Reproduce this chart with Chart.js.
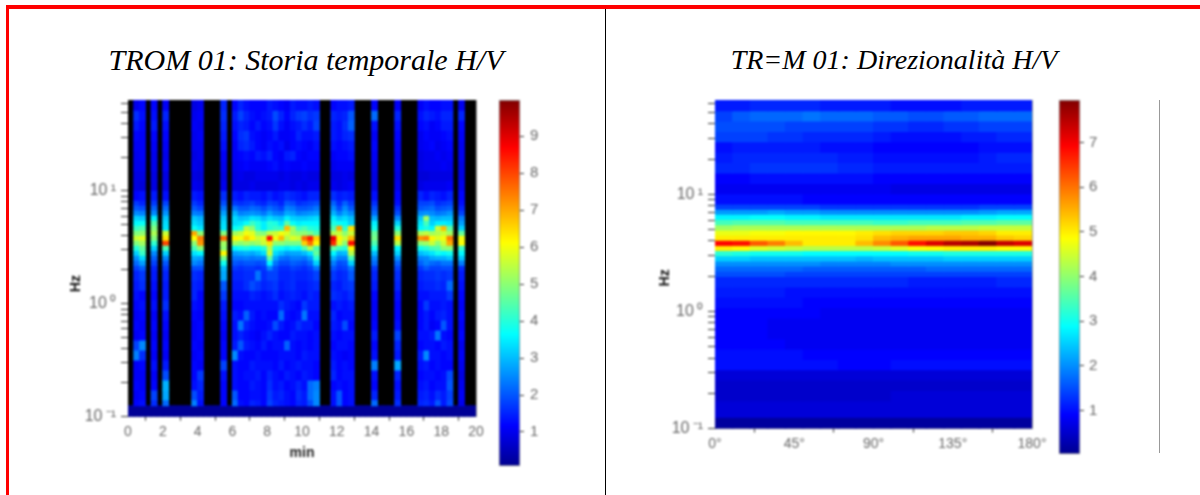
<!DOCTYPE html>
<html>
<head>
<meta charset="utf-8">
<title>TROM 01</title>
<script src="https://cdn.jsdelivr.net/npm/chart.js@4"></script>
<style>
body { margin: 0; background: #fff; overflow: hidden; }
#frame { position: absolute; left: 6px; top: 5px; width: 1300px; height: 600px; border-left: 3px solid #f00; border-top: 4px solid #f00; }
#divider { position: absolute; left: 605px; top: 9px; width: 1px; height: 486px; background: #000; }
#sideLine { position: absolute; left: 1159px; top: 100px; width: 1px; height: 353px; background: #999; }
.title { position: absolute; top: 43px; font: italic 30px "Liberation Serif", serif; color: #000; text-align: center; white-space: nowrap; }
canvas { position: absolute; filter: blur(1px); }
</style>
</head>
<body>
<div id="frame"></div>
<div id="divider"></div>
<div id="sideLine"></div>
<div class="title" style="left:8px;width:596px">TROM 01: Storia temporale H/V</div>
<div class="title" style="left:606px;width:576px;font-size:28px;top:44px">TR=M 01: Direzionalità H/V</div>
<canvas id="historyChart" width="430" height="372" style="left:60px;top:90px"></canvas>
<canvas id="historyBar" width="60" height="385" style="left:490px;top:90px"></canvas>
<canvas id="directionChart" width="400" height="372" style="left:650px;top:90px"></canvas>
<canvas id="directionBar" width="60" height="373" style="left:1050px;top:90px"></canvas>
<script>
// row edges in Hz, from the top of the plot down to the dark bottom strip
const freqEdges = [64, 51.8, 42.3, 34.5, 28.1, 22.9, 18.7, 15.2, 12.4, 10.1, 8.27, 7.47, 6.75, 6.09, 5.5, 4.97, 4.49, 4.05, 3.66, 3.31, 2.99, 2.7, 2.44, 2.2, 1.99, 1.62, 1.32, 1.08, 0.88, 0.72, 0.585, 0.477, 0.389, 0.318, 0.259, 0.211, 0.172, 0.141, 0.125];
const stripEdges = [0.125, 0.1];
const hzTicks = [0.1, 0.2, 0.3, 0.4, 0.5, 0.6, 0.7, 0.8, 0.9, 1, 2, 3, 4, 5, 6, 7, 8, 9, 10, 20, 30, 40, 50, 60];
const hzLabels = { 0.1: '10\u2009⁻¹', 1: '10\u2009⁰', 10: '10\u2009¹' };

// time history: 60 windows of 20 s, black where the window was removed
const minutesPerWindow = 1 / 3;
const blackWindows = [0, 3, 5, 7, 8, 9, 10, 13, 14, 15, 17, 33, 34, 39, 40, 41, 43, 44, 45, 47, 48, 49, 56, 58, 59];
const keptWindows = [1, 2, 4, 6, 11, 12, 16, 18, 19, 20, 21, 22, 23, 24, 25, 26, 27, 28, 29, 30, 31, 32, 35, 36, 37, 38, 42, 46, 50, 51, 52, 53, 54, 55, 57];
const historyStrip = 0.15;
const historyRows = [
  [1.0,1.2,1.2,1.1,0.9,1.0,1.5,1.2,1.5,1.3,1.2,1.2,1.2,1.4,1.3,1.2,1.1,1.4,1.3,1.3,1.4,1.3,1.2,1.3,1.3,1.4,1.2,1.1,1.1,1.3,1.2,1.2,1.3,1.3,1.0],
  [1.6,1.3,1.3,1.5,1.0,1.1,1.6,1.4,1.8,1.5,1.3,1.2,1.3,1.4,1.9,1.5,1.2,1.5,1.7,1.8,1.6,1.7,1.5,1.4,1.5,2.0,2.2,1.5,1.3,1.5,1.4,1.3,1.5,1.5,1.5],
  [1.4,1.2,1.4,1.3,1.1,1.0,1.5,1.3,1.5,1.4,1.2,1.4,1.2,1.3,1.7,1.3,1.1,1.3,1.4,1.6,1.4,1.8,1.4,1.3,1.6,2.1,1.3,1.3,1.2,1.3,1.1,1.2,1.4,1.4,1.2],
  [1.2,1.1,1.2,1.2,1.0,1.1,1.4,1.2,1.6,1.7,1.3,1.2,1.1,1.2,1.4,1.1,1.1,1.2,1.5,1.3,1.3,1.4,1.4,1.3,1.5,1.6,1.1,1.2,1.0,1.2,1.1,1.1,1.2,1.3,1.1],
  [1.1,1.1,1.1,1.1,1.0,1.0,1.3,1.1,1.5,1.6,1.4,1.2,1.1,1.3,1.2,1.3,1.0,1.2,1.3,1.2,1.1,1.3,1.3,1.2,1.3,1.4,1.2,1.1,1.0,1.1,1.2,1.0,1.1,1.2,1.0],
  [1.0,1.1,1.0,1.0,0.9,1.0,1.1,1.1,1.2,1.3,1.2,1.4,1.3,1.5,1.2,1.1,1.4,1.5,1.2,1.1,1.2,1.2,1.1,1.2,1.2,1.3,1.1,1.0,0.9,1.0,1.0,1.1,1.0,1.1,1.0],
  [1.0,1.0,1.0,1.1,1.0,0.9,1.0,1.0,1.1,1.2,1.1,1.1,1.1,1.2,1.3,1.1,1.2,1.1,1.1,1.2,1.1,1.1,1.0,1.1,1.1,1.1,1.0,1.0,0.9,1.0,1.0,1.0,1.1,1.0,0.9],
  [0.9,0.9,0.9,0.9,0.9,0.8,0.9,0.9,1.0,0.9,0.9,1.0,1.0,1.0,1.0,0.9,1.0,0.9,0.9,1.0,0.9,0.9,0.9,0.9,1.0,0.9,0.9,0.9,0.8,0.8,0.9,0.9,0.9,0.9,0.9],
  [0.9,0.8,0.9,0.9,1.0,0.9,1.0,0.9,0.9,0.9,1.0,0.9,0.9,0.9,0.9,1.0,1.0,0.9,1.0,0.9,1.0,1.0,1.0,0.9,1.0,1.1,0.9,1.0,0.9,1.0,1.0,1.0,1.0,1.1,1.0],
  [1.2,1.3,1.4,1.3,1.4,1.3,1.6,1.4,1.3,1.5,1.4,1.4,1.3,1.5,1.3,1.4,1.6,1.5,1.4,1.3,1.5,1.5,1.6,1.4,1.5,1.4,1.3,1.2,1.5,1.3,1.5,1.4,1.3,1.5,1.2],
  [1.7,1.5,1.7,1.8,1.7,1.5,1.9,1.7,1.6,1.7,1.8,1.6,1.5,1.8,1.7,1.5,2.0,1.9,1.6,1.7,1.8,1.9,2.1,1.6,2.1,1.7,1.6,1.3,1.8,1.8,1.9,1.6,1.7,1.8,1.3],
  [2.0,1.9,2.1,2.2,2.0,1.8,2.3,2.3,2.0,2.0,2.2,2.1,1.9,2.2,2.0,1.8,2.4,2.3,2.0,2.0,2.1,2.3,2.5,1.9,2.5,2.0,1.9,1.6,2.0,2.1,2.2,1.9,2.0,2.1,1.5],
  [2.5,2.4,2.5,2.6,2.4,2.3,2.7,2.9,2.4,2.5,2.6,2.5,2.3,2.7,2.4,2.3,2.8,2.7,2.4,2.5,2.6,2.7,2.9,2.4,2.8,2.5,2.2,1.9,2.5,2.6,2.5,2.3,2.4,2.6,1.8],
  [3.2,3.1,3.5,3.1,3.1,2.9,3.1,3.3,3.0,3.1,3.4,3.3,3.0,3.3,3.1,3.0,3.5,3.2,3.1,3.1,3.2,3.3,3.5,3.1,3.3,3.0,2.8,2.5,3.1,5.2,3.0,2.9,3.0,3.0,2.4],
  [3.6,3.7,4.4,3.3,3.3,3.1,3.3,3.3,3.4,3.7,4.2,3.9,3.5,4.0,3.9,3.4,4.5,3.7,3.5,3.6,3.6,3.6,3.9,3.7,3.6,3.2,3.5,3.2,3.4,4.3,3.2,3.5,3.5,3.4,2.7],
  [4.2,4.4,4.9,3.4,3.7,3.4,3.4,3.7,3.9,5.4,5.0,4.0,3.5,4.0,4.2,4.1,6.8,5.2,4.2,4.4,4.0,3.9,4.4,7.0,4.1,6.4,3.8,4.0,3.6,3.9,3.6,5.6,6.8,4.5,3.2],
  [4.9,5.0,5.3,5.6,7.0,5.0,4.9,5.2,5.5,6.0,5.8,5.0,4.9,5.5,5.6,6.0,5.8,5.2,5.0,5.0,4.8,4.4,5.4,5.6,5.0,5.6,4.6,5.0,5.3,5.5,5.2,5.4,5.6,5.2,4.6],
  [5.6,5.8,4.9,6.4,6.1,7.4,7.6,6.2,6.0,6.6,6.2,5.6,5.8,8.6,6.0,6.8,5.4,5.8,5.6,7.6,8.4,6.6,8.9,6.2,5.6,6.8,4.8,6.4,7.2,7.4,6.2,5.8,6.0,7.4,6.0],
  [4.9,5.2,4.1,8.0,5.0,7.2,5.2,5.2,5.0,5.2,5.0,5.2,5.6,6.4,5.0,5.0,4.8,4.8,4.8,6.6,7.6,6.2,8.3,5.8,5.0,8.6,4.4,5.4,5.0,5.2,5.6,5.0,5.6,7.0,6.1],
  [4.0,4.6,3.2,4.4,4.3,5.0,5.0,3.6,3.8,3.9,3.7,3.7,4.0,5.4,3.9,3.7,3.5,3.7,3.6,4.4,5.4,4.4,4.6,4.2,4.0,6.2,3.8,3.6,3.8,4.0,4.3,4.4,5.0,5.0,4.2],
  [3.2,4.2,2.5,3.2,3.4,3.6,6.2,2.7,2.8,2.9,2.8,3.0,3.3,5.6,3.3,3.0,2.7,2.8,2.8,3.0,3.4,4.6,3.6,2.9,3.0,5.4,3.0,3.2,3.0,3.2,3.4,3.8,3.6,3.8,3.6],
  [2.6,3.3,2.1,2.5,2.8,2.7,4.8,2.3,2.3,2.4,2.3,2.4,2.4,4.6,2.8,2.3,2.2,2.4,2.4,2.3,2.7,4.0,2.9,2.4,2.4,4.3,2.5,2.6,2.4,2.5,2.8,2.9,2.9,3.1,3.1],
  [2.2,2.7,1.8,2.0,2.5,2.3,3.8,2.0,1.9,2.0,2.0,1.9,2.0,3.6,2.3,1.9,1.9,2.1,2.0,1.9,2.2,3.2,2.4,1.9,2.0,3.2,2.2,2.1,2.1,2.4,2.2,2.1,2.3,2.3,2.4],
  [1.8,2.1,1.5,1.7,1.9,1.9,3.0,1.7,1.6,1.7,1.7,1.6,1.7,2.5,1.9,1.6,1.6,1.8,1.7,1.6,1.8,2.3,2.0,1.7,1.8,2.3,1.7,1.8,1.7,2.0,1.8,1.8,1.9,1.9,1.6],
  [1.5,1.7,1.4,1.5,1.6,1.5,2.8,1.5,1.5,1.6,1.6,2.3,1.6,1.8,1.8,1.5,1.5,1.6,1.5,1.5,1.6,1.8,1.7,1.5,1.6,2.0,1.5,1.6,1.5,1.6,1.6,1.7,1.6,1.7,1.4],
  [1.4,1.6,1.3,1.4,1.5,1.4,2.0,1.4,1.4,1.6,1.9,1.7,1.5,1.6,1.7,1.4,1.5,1.6,1.4,1.4,1.5,1.6,1.5,1.4,1.6,1.7,1.4,1.5,1.4,1.5,1.5,1.6,1.5,2.2,1.3],
  [1.3,1.2,1.2,1.4,1.5,1.2,1.7,1.3,1.3,1.3,1.5,1.4,1.3,1.4,1.6,1.3,1.4,1.5,1.4,1.3,1.5,1.4,1.6,1.5,1.4,1.6,1.2,1.3,1.3,1.3,1.4,1.4,1.4,1.7,1.2],
  [1.2,1.3,1.3,1.6,1.3,1.2,1.4,1.2,1.2,1.3,1.3,1.3,1.3,1.3,1.3,1.6,1.4,1.3,1.2,1.7,1.4,1.4,1.3,1.4,1.3,1.4,1.1,1.2,1.2,1.7,1.3,1.3,1.4,1.3,1.1],
  [1.1,1.2,1.1,1.3,1.2,1.1,1.3,1.4,1.3,2.1,1.4,1.2,1.3,1.2,1.2,2.2,1.3,1.2,1.3,2.3,1.3,1.3,1.5,1.2,1.3,1.3,1.1,1.2,1.2,1.4,1.2,1.4,1.5,1.3,1.2],
  [1.2,1.1,1.2,1.2,1.1,1.2,1.2,1.3,2.3,1.5,1.3,1.2,1.2,1.3,1.9,1.4,1.2,1.3,1.6,1.4,1.4,1.2,1.4,1.3,1.9,1.2,1.2,1.3,1.2,1.4,1.1,1.2,2.0,1.3,1.1],
  [1.1,1.2,1.1,1.1,1.1,1.2,1.1,1.3,1.5,1.3,1.2,1.1,1.3,1.5,1.3,1.2,1.2,1.4,1.3,1.3,1.2,1.3,1.3,1.2,1.3,1.3,1.4,1.8,1.3,1.3,1.4,2.3,1.3,1.2,1.2],
  [1.8,2.5,1.2,1.2,1.2,1.1,1.2,1.4,2.0,1.4,1.3,1.2,1.4,1.2,1.3,1.3,2.1,1.3,1.2,1.3,1.2,1.3,1.2,1.3,1.3,1.2,1.2,1.5,1.2,1.3,1.3,1.2,1.4,1.3,1.0],
  [2.4,1.6,1.1,1.1,1.1,1.2,1.2,2.5,1.3,1.2,1.2,1.3,1.2,1.2,1.2,1.3,1.3,1.3,1.2,1.4,1.3,1.3,1.3,1.2,1.1,1.2,1.3,1.4,1.4,2.5,1.3,1.3,1.2,1.3,1.1],
  [1.1,1.2,1.3,1.4,1.2,1.1,1.8,1.3,1.2,1.2,1.4,1.3,1.3,1.3,1.2,1.4,1.2,1.3,1.4,1.3,1.3,1.2,1.4,1.2,1.3,1.2,2.4,2.8,1.3,1.4,1.2,1.3,1.2,1.2,1.0],
  [1.1,1.1,1.1,1.9,1.2,1.7,1.3,1.3,1.2,1.3,1.3,1.4,1.2,1.5,1.3,1.2,1.4,1.3,1.2,1.4,1.3,1.2,1.5,1.2,1.3,1.3,1.3,1.5,1.2,1.3,1.3,1.2,1.3,1.9,0.9],
  [1.2,1.1,1.2,2.9,1.3,1.5,1.2,1.3,1.2,1.2,1.4,1.3,1.2,1.6,1.3,1.4,1.2,1.3,1.5,1.3,2.2,2.4,1.2,1.3,1.2,1.3,1.2,1.3,1.3,1.4,1.2,1.3,1.3,2.0,1.0],
  [1.1,1.2,1.8,2.8,1.9,1.4,1.2,2.0,1.2,1.2,1.3,1.3,1.2,1.7,1.4,1.5,1.3,1.2,1.6,1.4,2.2,2.5,1.3,2.0,1.2,1.3,1.5,1.4,1.4,1.5,1.3,1.6,1.4,1.8,1.1],
  [1.2,1.3,1.6,2.2,2.4,1.3,1.2,2.2,1.3,1.2,1.5,1.4,1.2,1.8,1.5,1.4,1.3,1.2,1.5,1.4,1.9,2.5,1.3,2.0,1.2,1.3,2.2,1.6,1.5,1.6,1.4,2.0,1.4,1.9,1.0]
];

// directionality: 18 sectors of 10 degrees
const degreesPerSector = 10;
const directionStrip = 0.15;
const directionRows = [
  [1.1,1.1,1.2,1.2,1.2,1.2,1.1,1.1,1.1,1.1,1.0,1.0,1.0,1.0,1.1,1.1,1.1,1.1],
  [1.4,1.6,1.7,1.7,1.7,1.8,1.7,1.7,1.7,1.6,1.6,1.5,1.5,1.6,1.6,1.7,1.7,1.7],
  [1.5,1.5,1.5,1.5,1.4,1.4,1.4,1.4,1.4,1.3,1.3,1.2,1.2,1.3,1.3,1.4,1.4,1.4],
  [1.4,1.4,1.4,1.3,1.3,1.2,1.2,1.2,1.2,1.1,1.0,1.0,1.0,1.0,1.1,1.1,1.2,1.2],
  [1.0,1.1,1.1,1.1,1.1,1.1,1.0,1.0,1.0,0.9,0.9,0.9,0.9,0.9,0.9,1.0,1.0,1.0],
  [1.1,1.2,1.2,1.2,1.2,1.2,1.2,1.1,1.1,1.0,1.0,1.0,1.0,1.0,1.0,1.1,1.2,1.2],
  [1.2,1.2,1.3,1.3,1.3,1.3,1.3,1.2,1.2,1.1,1.1,1.1,1.1,1.1,1.1,1.1,1.1,1.1],
  [0.9,0.9,1.0,1.0,1.0,1.0,1.0,1.0,1.0,0.9,0.9,0.9,0.9,0.9,0.9,0.9,0.9,0.9],
  [0.8,0.8,0.8,0.8,0.8,0.8,0.8,0.8,0.8,0.8,0.7,0.7,0.7,0.7,0.7,0.7,0.7,0.7],
  [1.0,1.0,1.0,1.0,1.0,0.9,0.9,0.9,0.9,0.9,0.9,0.9,0.9,0.9,0.9,0.9,0.9,0.9],
  [1.4,1.4,1.4,1.4,1.4,1.4,1.3,1.3,1.3,1.3,1.3,1.3,1.3,1.3,1.3,1.4,1.4,1.4],
  [2.1,2.1,2.1,2.2,2.1,2.1,2.0,2.0,2.0,2.0,2.0,2.0,2.0,2.0,2.0,2.1,2.2,2.2],
  [2.8,2.8,2.9,2.9,2.8,2.8,2.7,2.7,2.7,2.7,2.7,2.7,2.7,2.7,2.8,2.8,2.9,2.9],
  [3.4,3.5,3.5,3.5,3.4,3.4,3.4,3.4,3.4,3.3,3.3,3.4,3.4,3.4,3.5,3.5,3.6,3.6],
  [4.1,4.2,4.2,4.2,4.2,4.2,4.2,4.2,4.2,4.2,4.2,4.2,4.3,4.3,4.3,4.4,4.4,4.4],
  [4.7,4.7,4.8,4.8,4.9,4.9,4.9,4.9,5.0,5.1,5.2,5.2,5.2,5.3,5.3,5.2,5.0,5.0],
  [5.0,5.0,5.0,5.0,5.0,5.0,5.0,5.0,5.1,5.4,5.5,5.6,5.6,5.6,5.5,5.5,5.3,5.2],
  [6.9,6.8,6.2,5.9,5.4,5.0,5.0,5.0,5.4,5.8,6.2,6.8,7.2,7.5,7.6,7.9,7.4,7.2],
  [5.0,4.9,4.6,4.5,4.4,4.3,4.3,4.3,4.3,4.4,4.6,4.8,4.9,5.0,5.0,5.0,4.9,4.9],
  [3.2,3.1,3.0,3.0,3.0,2.9,2.9,2.9,2.9,2.9,2.9,3.0,3.0,3.1,3.1,3.1,3.1,3.1],
  [2.5,2.5,2.4,2.4,2.4,2.4,2.4,2.4,2.3,2.4,2.4,2.4,2.4,2.5,2.5,2.5,2.5,2.5],
  [2.0,2.0,2.0,2.0,2.0,2.0,1.9,1.9,1.9,1.9,2.0,2.0,2.0,2.0,2.0,2.0,2.0,2.0],
  [1.7,1.7,1.7,1.7,1.7,1.6,1.6,1.6,1.6,1.6,1.6,1.6,1.7,1.7,1.7,1.7,1.7,1.7],
  [1.5,1.5,1.5,1.5,1.4,1.4,1.4,1.4,1.4,1.4,1.4,1.4,1.4,1.4,1.4,1.4,1.4,1.4],
  [1.2,1.2,1.2,1.2,1.2,1.2,1.2,1.2,1.2,1.2,1.2,1.1,1.1,1.1,1.1,1.1,1.2,1.2],
  [1.1,1.1,1.1,1.1,1.0,1.0,1.0,1.0,1.0,1.0,1.0,1.0,1.0,1.0,1.0,1.0,1.0,1.0],
  [1.0,1.0,1.0,1.0,1.0,0.9,0.9,0.9,0.9,0.9,0.9,0.9,0.9,0.9,0.9,0.9,0.9,0.9],
  [0.9,0.9,0.9,0.9,0.9,0.9,0.8,0.8,0.8,0.8,0.8,0.8,0.8,0.8,0.8,0.8,0.8,0.8],
  [0.9,0.9,0.9,0.8,0.8,0.8,0.8,0.8,0.8,0.8,0.8,0.8,0.8,0.8,0.8,0.8,0.8,0.8],
  [0.9,0.9,0.9,0.8,0.8,0.8,0.8,0.8,0.8,0.8,0.8,0.8,0.8,0.8,0.8,0.8,0.8,0.8],
  [0.9,0.9,0.9,0.9,0.8,0.8,0.8,0.8,0.8,0.8,0.8,0.8,0.8,0.8,0.8,0.8,0.8,0.8],
  [1.0,1.0,1.0,1.0,1.0,0.9,0.9,0.9,0.9,0.9,0.9,0.9,0.9,0.9,0.9,0.9,0.9,0.9],
  [1.0,1.0,1.0,1.0,1.0,1.0,1.0,0.9,0.9,0.9,1.0,1.0,1.0,1.0,1.0,1.0,1.0,1.0],
  [0.6,0.6,0.6,0.6,0.6,0.6,0.6,0.6,0.6,0.6,0.6,0.6,0.6,0.6,0.6,0.6,0.6,0.6],
  [0.5,0.5,0.5,0.5,0.5,0.5,0.5,0.5,0.5,0.5,0.5,0.5,0.5,0.5,0.5,0.5,0.5,0.5],
  [0.5,0.5,0.5,0.5,0.5,0.5,0.5,0.5,0.5,0.5,0.6,0.6,0.6,0.6,0.6,0.6,0.6,0.6],
  [0.6,0.6,0.6,0.6,0.6,0.6,0.6,0.6,0.6,0.6,0.6,0.6,0.6,0.6,0.6,0.6,0.6,0.6],
  [0.6,0.6,0.6,0.6,0.6,0.6,0.6,0.6,0.6,0.6,0.6,0.6,0.6,0.6,0.6,0.6,0.6,0.6]
];

const jetStops = [[0, [0, 0, 143]], [0.11, [0, 0, 255]], [0.36, [0, 255, 255]], [0.61, [255, 255, 0]], [0.87, [255, 0, 0]], [1, [128, 0, 0]]];
const historyRange = [0.08, 9.98];
const directionRange = [0.03, 7.95];

function jet(t) {
  t = Math.min(1, Math.max(0, t));
  for (let i = 1; i < jetStops.length; i++) {
    const [t1, c1] = jetStops[i];
    if (t <= t1) {
      const [t0, c0] = jetStops[i - 1];
      const k = (t - t0) / (t1 - t0);
      return 'rgb(' + c0.map((c, n) => Math.round(c + (c1[n] - c) * k)).join(',') + ')';
    }
  }
}

const inkColor = '#333';
const labelColor = '#666';

// keep the plot box where it was set, whatever the size of the tick labels
function fixBox(s, width) {
  s.width = width;
  s.paddingTop = 0;
  s.paddingBottom = 0;
}

function heatDatasets(rows, xs, range, strip, stripXs, extra) {
  const color = v => jet((v - range[0]) / (range[1] - range[0]));
  const sets = rows.map((row, r) => ({
    data: row.map((v, i) => ({ x: xs[i], y: [freqEdges[r + 1], freqEdges[r]] })),
    backgroundColor: row.map(color)
  }));
  sets.push({
    data: stripXs.map(x => ({ x: x, y: [stripEdges[1], stripEdges[0]] })),
    backgroundColor: color(strip)
  });
  return sets.concat(extra);
}

function heatChart(id, datasets, xAxis, yWidth, xHeight, padRight, hzTitle, hzPad) {
  new Chart(document.getElementById(id), {
    type: 'bar',
    data: { datasets: datasets },
    options: {
      responsive: false,
      animation: false,
      layout: { padding: { top: 10, right: padRight } },
      datasets: { bar: { grouped: false, barPercentage: 1, categoryPercentage: 1, inflateAmount: 0.5 } },
      plugins: { legend: { display: false }, tooltip: { enabled: false } },
      scales: {
        x: Object.assign({
          type: 'linear',
          offset: false,
          afterFit: s => { s.height = xHeight; s.paddingLeft = 0; s.paddingRight = 0; },
          grid: { drawOnChartArea: false, tickLength: 4, tickColor: inkColor },
          border: { color: '#888' }
        }, xAxis),
        y: {
          type: 'logarithmic',
          min: 0.1,
          max: 64,
          afterFit: s => fixBox(s, yWidth),
          afterBuildTicks: s => { s.ticks = hzTicks.map(v => ({ value: v })); },
          grid: { drawOnChartArea: false, tickLength: 7, tickColor: inkColor },
          border: { color: '#222' },
          title: { display: true, text: hzTitle, color: '#111', font: { family: 'Liberation Sans', size: 14, weight: 'bold' }, padding: { top: hzPad, bottom: 0 } },
          ticks: {
            autoSkip: false,
            maxRotation: 0,
            color: labelColor,
            padding: 5,
            font: { family: 'Liberation Sans', size: 16 },
            callback: v => hzLabels[v] || ''
          }
        }
      }
    },
    plugins: [{
      // thin grey edge on the right of the plot
      id: 'rightEdge',
      afterDraw(chart) {
        const a = chart.chartArea, c = chart.ctx;
        c.save();
        c.strokeStyle = '#999';
        c.beginPath();
        c.moveTo(a.right + 0.5, a.top);
        c.lineTo(a.right + 0.5, a.bottom);
        c.stroke();
        c.restore();
      }
    }]
  });
}

function colorBar(id, range, labelPad) {
  new Chart(document.getElementById(id), {
    type: 'bar',
    data: {
      labels: ['H/V'],
      datasets: [{
        data: [range],
        barPercentage: 1,
        categoryPercentage: 1,
        borderWidth: 1,
        borderSkipped: false,
        borderColor: '#888',
        backgroundColor(ctx) {
          const a = ctx.chart.chartArea;
          if (!a) return '#00f';
          const g = ctx.chart.ctx.createLinearGradient(0, a.bottom, 0, a.top);
          jetStops.forEach(([t, c]) => g.addColorStop(t, 'rgb(' + c.join(',') + ')'));
          return g;
        }
      }]
    },
    options: {
      responsive: false,
      animation: false,
      layout: { padding: { top: 10, bottom: 9, left: 9 } },
      plugins: { legend: { display: false }, tooltip: { enabled: false } },
      scales: {
        x: { display: false },
        y: {
          position: 'right',
          min: range[0],
          max: range[1],
          afterFit: s => fixBox(s, 30),
          grid: { drawOnChartArea: false, tickLength: 4, tickColor: inkColor },
          border: { display: false },
          ticks: { stepSize: 1, includeBounds: false, color: labelColor, padding: labelPad, font: { family: 'Liberation Sans', size: 15 } }
        }
      }
    }
  });
}

const historyXs = keptWindows.map(w => (w + 0.5) * minutesPerWindow);
const allWindows = keptWindows.concat(blackWindows).sort((a, b) => a - b);
const blackSet = {
  data: blackWindows.map(w => ({ x: (w + 0.5) * minutesPerWindow, y: [freqEdges[freqEdges.length - 1], freqEdges[0]] })),
  backgroundColor: '#000'
};
heatChart('historyChart',
  heatDatasets(historyRows, historyXs, historyRange, historyStrip, allWindows.map(w => (w + 0.5) * minutesPerWindow), [blackSet]),
  {
    min: 0,
    max: 20,
    ticks: { stepSize: 2, maxRotation: 0, color: labelColor, padding: 3, font: { family: 'Liberation Sans', size: 14 } },
    title: { display: true, text: 'min', color: '#222', font: { family: 'Liberation Sans', size: 14, weight: 'bold' }, padding: 0 }
  },
  68, 45.3, 14, 'Hz' + ' '.repeat(13), 8);

const sectorXs = directionRows[0].map((v, i) => (i + 0.5) * degreesPerSector);
heatChart('directionChart',
  heatDatasets(directionRows, sectorXs, directionRange, directionStrip, sectorXs, []),
  {
    min: 0,
    max: 180,
    ticks: { stepSize: 45, maxRotation: 0, color: labelColor, padding: 3, font: { family: 'Liberation Sans', size: 14 }, callback: v => v + '°' }
  },
  65, 33.5, 18, 'Hz' + ' '.repeat(7), 7);

colorBar('historyBar', historyRange, 6);
colorBar('directionBar', directionRange, 5);
</script>
</body>
</html>
